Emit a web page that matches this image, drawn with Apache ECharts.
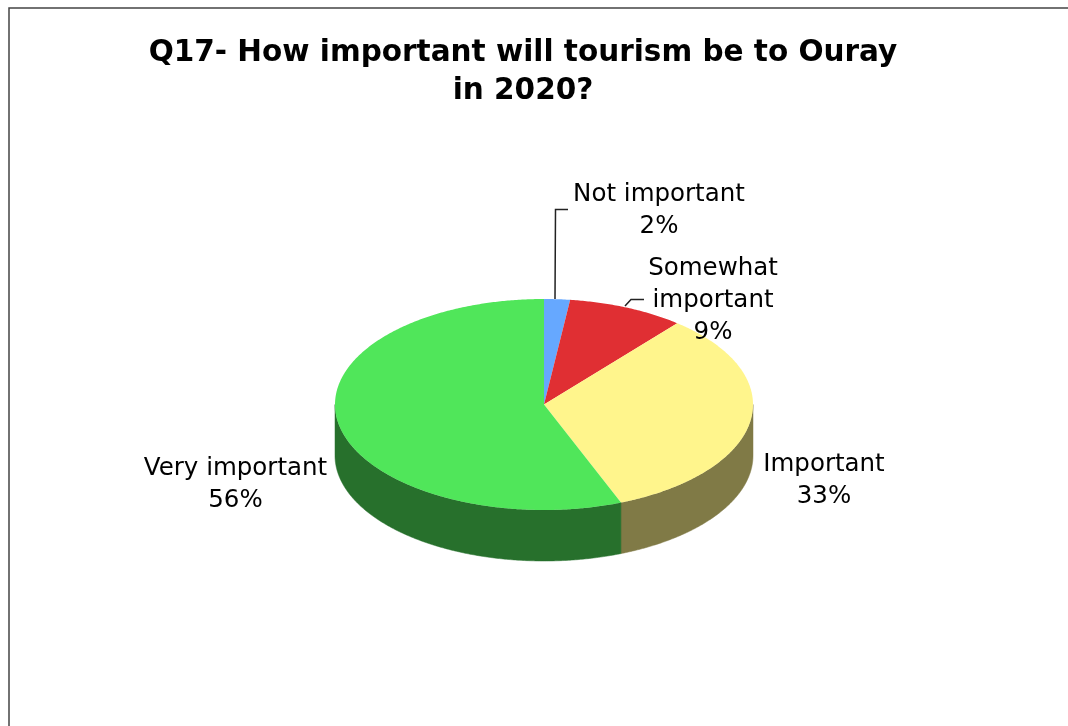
<!DOCTYPE html>
<html>
<head>
<meta charset="utf-8">
<title>Q17</title>
<script src="https://cdn.jsdelivr.net/npm/echarts@6/dist/echarts.min.js"></script>
<style>
html, body { margin: 0; padding: 0; background: #fff; }
#chart { width: 1068px; height: 726px; }
</style>
</head>
<body>
<div id="chart"></div>
<script>
var categories = ['Not important', 'Somewhat important', 'Important', 'Very important'];
var values = [2, 9, 33, 56];
var labelLines = [
	['Not important', '2%'],
	['Somewhat', 'important', '9%'],
	['Important', '33%'],
	['Very important', '56%']
];
var topColors = ['#66A8FF', '#E02F33', '#FFF58C', '#50E65A'];
var wallColors = ['#33547F', '#70181A', '#807A46', '#27702C'];

// pie geometry
var cx = 544, cy = 404.5, rx = 209, ry = 105.5, depth = 51;
var lineGap = 32;
var labelAnchors = [[659, 195], [713, 269], [824, 465], [235.5, 469]];
var leaders = [
	[[555, 299], [555.5, 209.5], [568, 209.5]],
	[[625, 306], [631, 299.5], [644, 299.5]],
	null,
	null
];

var total = values.reduce(function(a, b) { return a + b; }, 0);

function sliceRange(index) {
	var before = 0;
	for (var i = 0; i < index; i++) {
		before += values[i];
	}
	return [before / total * 360, (before + values[index]) / total * 360];
}

function rimPoint(deg, shift) {
	var r = deg * Math.PI / 180;
	return [cx + rx * Math.sin(r), cy - ry * Math.cos(r) + shift];
}

function arcPoints(from, to, shift) {
	var pts = [];
	var n = Math.max(2, Math.ceil((to - from) * 2));
	for (var i = 0; i <= n; i++) {
		pts.push(rimPoint(from + (to - from) * i / n, shift));
	}
	return pts;
}

function renderSlice(params, api) {
	var range = sliceRange(params.dataIndex);
	var children = [];
	// only the front half of the rim shows a wall
	var wallFrom = Math.max(range[0], 90), wallTo = Math.min(range[1], 270);
	if (wallTo > wallFrom) {
		children.push({
			type: 'polygon',
			shape: { points: arcPoints(wallFrom, wallTo, 0).concat(arcPoints(wallFrom, wallTo, depth).reverse()) },
			style: { fill: wallColors[params.dataIndex], stroke: wallColors[params.dataIndex], lineWidth: 0.5 }
		});
	}
	children.push({
		type: 'polygon',
		shape: { points: [[cx, cy]].concat(arcPoints(range[0], range[1], 0)) },
		style: { fill: api.visual('color') }
	});
	return { type: 'group', children: children };
}

function renderLabel(params) {
	var i = params.dataIndex;
	var children = [];
	labelLines[i].forEach(function(line, k) {
		children.push({
			type: 'text',
			style: {
				text: line,
				x: labelAnchors[i][0],
				y: labelAnchors[i][1] + k * lineGap,
				align: 'center',
				verticalAlign: 'middle',
				fill: '#000',
				font: '24.5px "DejaVu Sans", Verdana, sans-serif'
			}
		});
	});
	if (leaders[i]) {
		children.push({
			type: 'polyline',
			shape: { points: leaders[i] },
			style: { fill: 'none', stroke: '#222', lineWidth: 1.5 }
		});
	}
	return { type: 'group', children: children };
}

var chart = echarts.init(document.getElementById('chart'));
chart.setOption({
	animation: false,
	backgroundColor: '#fff',
	title: {
		text: 'Q17- How important will tourism be to Ouray\nin 2020?',
		left: 518,
		top: 29,
		textAlign: 'center',
		textStyle: {
			fontFamily: '"DejaVu Sans", Verdana, sans-serif',
			fontSize: 29.5,
			fontWeight: 'bold',
			color: '#000',
			lineHeight: 38
		}
	},
	graphic: [{
		type: 'rect',
		silent: true,
		shape: { x: 9, y: 8, width: 1200, height: 900 },
		style: { fill: 'none', stroke: '#444', lineWidth: 1.5 }
	}],
	series: [{
		type: 'custom',
		name: 'slices',
		coordinateSystem: 'none',
		renderItem: renderSlice,
		data: values.map(function(v, i) {
			return { name: categories[i], value: [v], itemStyle: { color: topColors[i] } };
		}),
		z: 2
	}, {
		type: 'custom',
		name: 'labels',
		coordinateSystem: 'none',
		renderItem: renderLabel,
		data: values.map(function(v, i) {
			return { name: categories[i], value: [v] };
		}),
		z: 3
	}]
});

window.addEventListener('resize', function() {
	chart.resize();
}, false);
</script>
</body>
</html>
